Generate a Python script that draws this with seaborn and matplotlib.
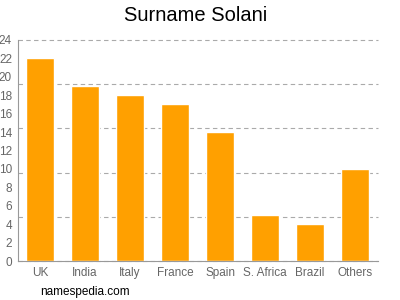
import matplotlib
matplotlib.use("Agg")
import matplotlib.pyplot as plt
from matplotlib.ticker import MultipleLocator, LinearLocator
import seaborn as sns
import pandas as pd

countries = ["UK", "India", "Italy", "France", "Spain", "S. Africa", "Brazil", "Others"]
counts = [22, 19, 18, 17, 14, 5, 4, 10]
title = "Surname Solani"
footer = "namespedia.com"

sns.set_style("white")
plt.rcParams['font.family'] = ['Liberation Sans', 'DejaVu Sans']

df = pd.DataFrame({"country": countries, "count": counts})

fig = plt.figure(figsize=(4, 3), dpi=100)
ax = fig.add_axes([0.044, 0.13, 0.9, 0.737])
sns.barplot(data=df, x="country", y="count", color="#ffa000", saturation=1,
            width=0.62, ax=ax)
ax.set_xlim(-0.5, len(countries) - 0.5)
ax.set_ylim(0, 24)
ax.yaxis.remove_overlapping_locs = False
ax.yaxis.set_major_locator(MultipleLocator(2))
ax.yaxis.set_minor_locator(LinearLocator(6))
ax.grid(which="minor", axis="y", linestyle=(0, (4, 3)), color="#aaaaaa", linewidth=0.8)
ax.grid(which="major", axis="y", visible=False)
ax.set_axisbelow(True)
ax.tick_params(axis="y", which="minor", length=0)
ax.tick_params(axis="both", which="major", labelsize=8.5, labelcolor="#666666",
               color="#999999", length=3, width=0.8, pad=1)
ax.set_xlabel("")
ax.set_ylabel("")
for s in ["top", "right"]:
    ax.spines[s].set_visible(False)
for s in ["left", "bottom"]:
    ax.spines[s].set_color("#999999")
    ax.spines[s].set_linewidth(0.8)

fig.canvas.draw()
for t in ax.yaxis.get_minor_ticks():
    t.gridline.set_clip_on(False)

fig.text(0.49, 0.948, title, ha="center", va="center", fontsize=14.5, color="#000000")
fig.text(0.1, 0.028, footer, ha="left", va="center", fontsize=8.5, color="#000000")

fig.savefig("out.png", dpi=100)
